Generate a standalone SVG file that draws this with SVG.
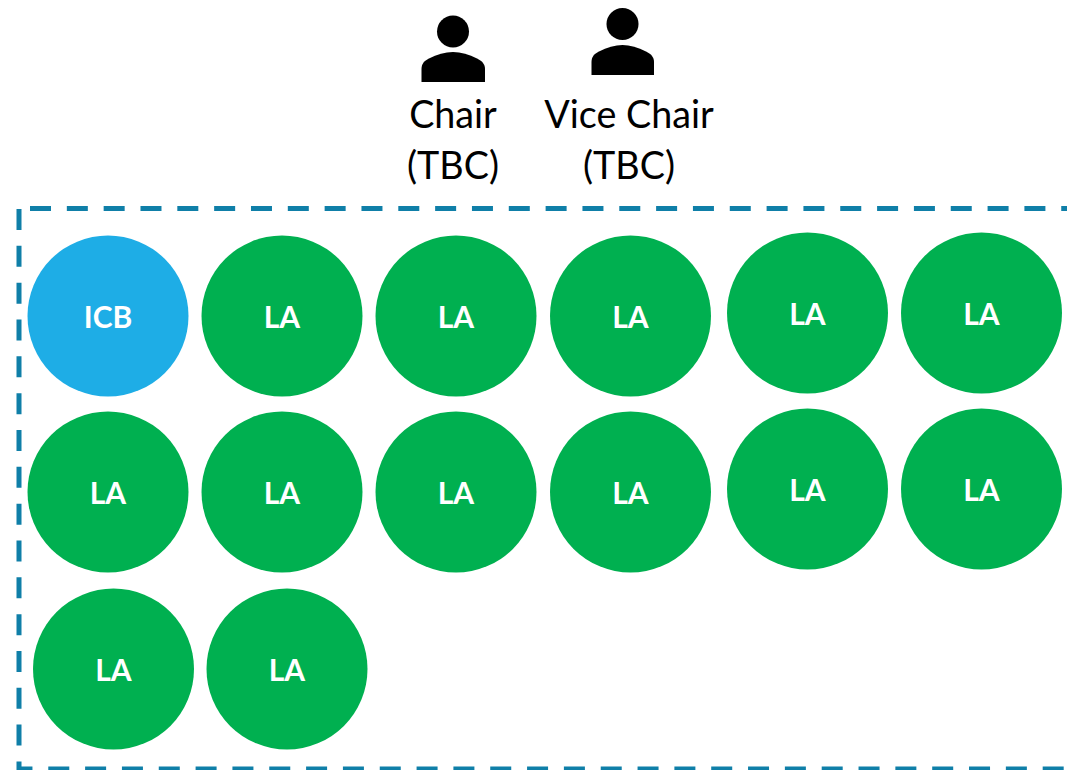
<svg xmlns="http://www.w3.org/2000/svg" width="1067" height="770" viewBox="0 0 1067 770">
<style>
.g{fill:#00b050}
.b{fill:#1eade6}
.n{font:700 30px Lato,"Open Sans",sans-serif;fill:#fff;text-anchor:middle}
.t{font:400 37.7px Lato,"Open Sans",sans-serif;fill:#000;text-anchor:middle}
.d{fill:none;stroke:#0f7fa8;stroke-width:5;stroke-dasharray:21 15.83}
.p{fill:#000}
</style>
<rect width="1067" height="770" fill="#fff"/>
<g id="connectors"></g>
<g id="frame"><path class="d" d="M30 208.5H1067"/><path class="d" d="M19 209V769H1067"/></g>
<g id="chair"><circle class="p" cx="453" cy="31.5" r="16"/><path class="p" d="M421.500 82V69C421.500 64 424 61 429 58.500C437 54.500 445 52 453 52C461 52 469 54.500 477 58.500C482 61 485 64 485 69V82Z"/><text class="t" x="453" y="127.500">Chair</text><text class="t" x="453" y="178.500">(TBC)</text></g>
<g id="vice-chair"><circle class="p" cx="622.500" cy="24" r="16"/><path class="p" d="M591.500 75V62C591.500 57 594 54 599 51.500C607 47.500 615 45 622.500 45C630 45 638 47.500 646 51.500C651 54 654 57 654 62V75Z"/><text class="t" x="629" y="128">Vice Chair</text><text class="t" x="629" y="179">(TBC)</text></g>
<g id="icb"><circle class="b" cx="108" cy="316" r="80.500"/><text class="n" x="108" y="328">ICB</text></g>
<g id="la1"><circle class="g" cx="282" cy="316" r="80.500"/><text class="n" x="282" y="328">LA</text></g>
<g id="la2"><circle class="g" cx="456" cy="316" r="80.500"/><text class="n" x="456" y="328">LA</text></g>
<g id="la3"><circle class="g" cx="630.500" cy="316" r="80.500"/><text class="n" x="630.500" y="328">LA</text></g>
<g id="la4"><circle class="g" cx="807.500" cy="313" r="80.500"/><text class="n" x="807.500" y="325">LA</text></g>
<g id="la5"><circle class="g" cx="981.500" cy="313" r="80.500"/><text class="n" x="981.500" y="325">LA</text></g>
<g id="la6"><circle class="g" cx="108" cy="492" r="80.500"/><text class="n" x="108" y="504">LA</text></g>
<g id="la7"><circle class="g" cx="282" cy="492" r="80.500"/><text class="n" x="282" y="504">LA</text></g>
<g id="la8"><circle class="g" cx="456" cy="492" r="80.500"/><text class="n" x="456" y="504">LA</text></g>
<g id="la9"><circle class="g" cx="630.500" cy="492" r="80.500"/><text class="n" x="630.500" y="504">LA</text></g>
<g id="la10"><circle class="g" cx="807.500" cy="489" r="80.500"/><text class="n" x="807.500" y="501">LA</text></g>
<g id="la11"><circle class="g" cx="981.500" cy="489" r="80.500"/><text class="n" x="981.500" y="501">LA</text></g>
<g id="la12"><circle class="g" cx="113.500" cy="669" r="80.500"/><text class="n" x="113.500" y="681">LA</text></g>
<g id="la13"><circle class="g" cx="287" cy="669" r="80.500"/><text class="n" x="287" y="681">LA</text></g>
</svg>
